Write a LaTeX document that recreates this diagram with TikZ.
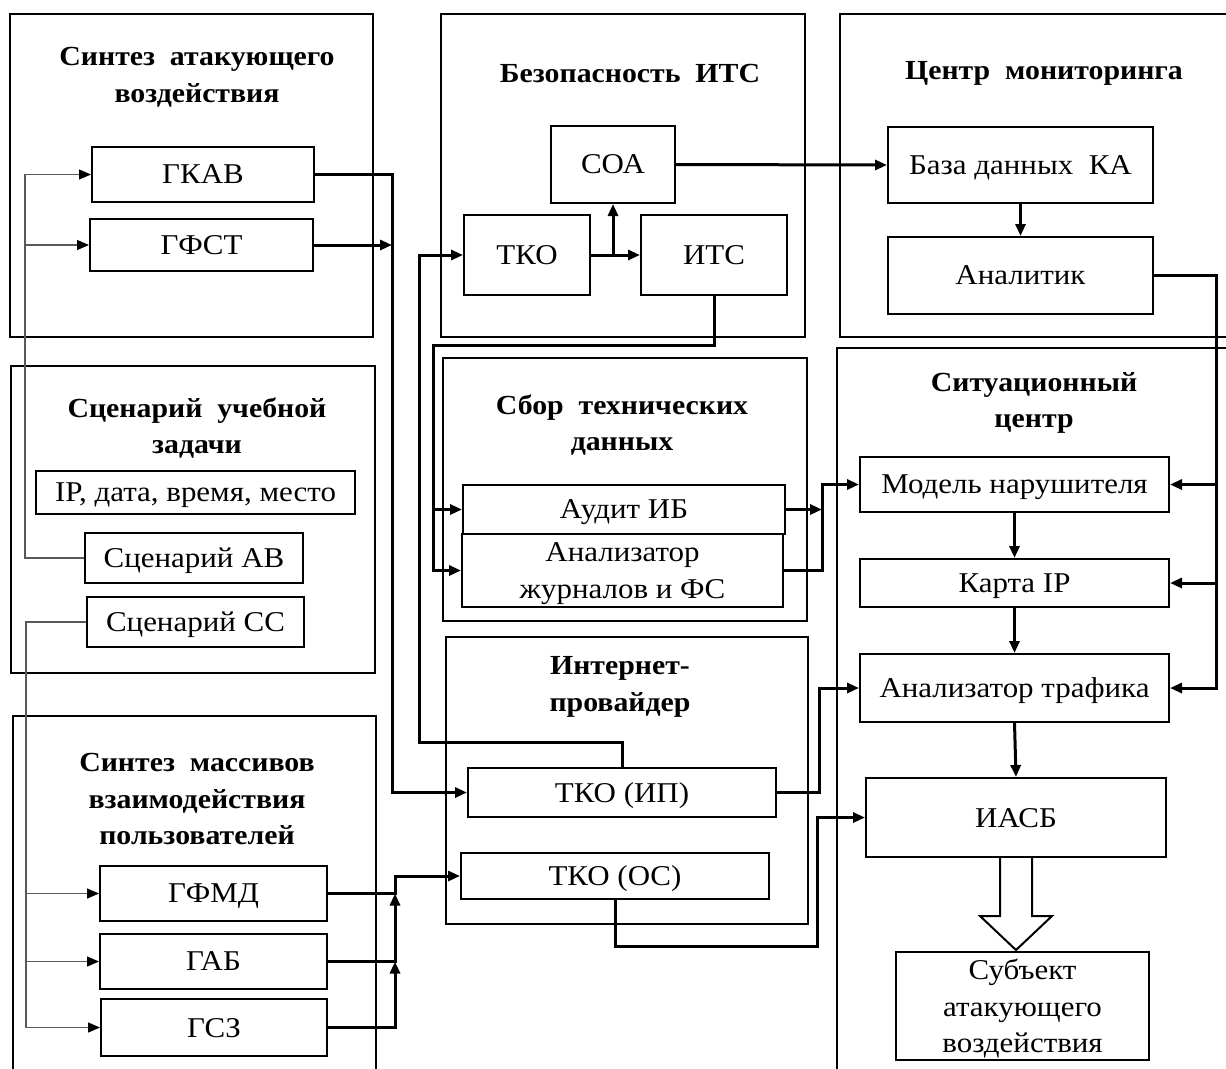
\documentclass[tikz,border=0pt]{standalone}
\usepackage{fontspec}
\setmainfont{Liberation Serif}[FakeStretch=1.08]
\usetikzlibrary{arrows.meta}
% block with corners (x1,y1)-(x2,y2) in pixel units
\newcommand\blk[7][]{\node[box,minimum width={0.75*(#5-#3)},minimum height={0.75*(#6-#4)},#1] (#2) at ({(#3+#5)/2},{(#4+#6)/2}) {#7};}
\begin{document}
\begin{tikzpicture}[x=0.75pt,y=-0.75pt,
  panel/.style={draw,line width=1.5pt},
  ttl/.style={font=\fontsize{20.7}{27.5}\selectfont\bfseries,align=center,inner sep=0pt},
  box/.style={draw,line width=1.5pt,fill=white,inner sep=0pt,align=center,text depth=0pt,font=\fontsize{21.5}{27.5}\selectfont},
  conn/.style={line width=2.25pt,-{Triangle[length=9pt,width=7.5pt]}},
  feed/.style={line width=1pt,draw=black!65,-{Triangle[length=9pt,width=7.5pt,color=black]}},
]
\clip (0,0) rectangle (1226,1068);
\fill[white] (0,0) rectangle (1226,1068);

% group frames
\draw[panel] (10,14) rectangle (373,337);
\draw[panel] (441,14) rectangle (805,337);
\draw[panel] (840,14) rectangle (1240,337);
\draw[panel] (11,366) rectangle (375,673);
\draw[panel] (443,358) rectangle (807,621);
\draw[panel] (446,637) rectangle (808,924);
\draw[panel] (837,348) rectangle (1240,1080);
\draw[panel] (13,716) rectangle (376,1080);

% group titles
\node[ttl] (t1) at (197,77) {Синтез\ \ атакующего\\воздействия};
\node[ttl] (t2) at (630,73) {Безопасность\ \ ИТС};
\node[ttl] (t3) at (1044,73) {Центр\ \ мониторинга};
\node[ttl] (t4) at (197,428) {Сценарий\ \ учебной\\задачи};
\node[ttl] (t5) at (622,425) {Сбор\ \ технических\\данных};
\node[ttl] (t6) at (1034,403) {Ситуационный\\центр};
\node[ttl] (t7) at (620,687) {Интернет-\\провайдер};
\node[ttl] (t8) at (197,799) {Синтез\ \ массивов\\взаимодействия\\пользователей};

% blocks
\blk{gkav}{92}{147}{314}{202}{ГКАВ}
\blk{gfst}{90}{219}{313}{271}{ГФСТ}
\blk{soa}{551}{126}{675}{203}{СОА}
\blk{tko}{464}{215}{590}{295}{ТКО}
\blk{its}{641}{215}{787}{295}{ИТС}
\blk{bdka}{888}{127}{1153}{203}{База данных\ \ КА}
\blk{analitik}{888}{237}{1153}{314}{Аналитик}
\blk{ipbox}{36}{471}{355}{514}{IP, дата, время, место}
\blk{scav}{85}{533}{303}{583}{Сценарий АВ}
\blk{scss}{87}{597}{304}{647}{Сценарий СС}
\blk{audit}{463}{485}{785}{534}{Аудит ИБ}
\blk[text depth=-5pt]{anl}{462}{534}{783}{607}{Анализатор\\журналов и ФС}
\blk{tkoip}{468}{768}{776}{817}{ТКО (ИП)}
\blk{tkoos}{461}{853}{769}{899}{ТКО (ОС)}
\blk{gfmd}{100}{866}{327}{921}{ГФМД}
\blk{gab}{100}{934}{327}{989}{ГАБ}
\blk{gsz}{101}{999}{327}{1056}{ГСЗ}
\blk{model}{860}{457}{1169}{512}{Модель нарушителя}
\blk{karta}{860}{559}{1169}{607}{Карта IP}
\blk{ata}{860}{654}{1169}{722}{Анализатор трафика}
\blk{iasb}{866}{778}{1166}{857}{ИАСБ}
\blk{subj}{896}{952}{1149}{1060}{Субъект\\атакующего\\воздействия}

% bus coordinates
\coordinate (busA) at (392,0);
\coordinate (bIP) at (419,742);
\coordinate (bITS) at (433,345);
\coordinate (bSD) at (822,0);
\coordinate (bAn) at (1216,0);
\coordinate (bIPo) at (819,0);
\coordinate (bOS) at (817,946);
\coordinate (bU) at (395,0);
\coordinate (g1) at (25,0);
\coordinate (g2) at (26,0);

% scenario feeds
\draw[feed] (scav.west) -| (g1 |- gkav.west) -- (gkav.west);
\draw[feed] (gfst.west -| g1) -- (gfst.west);
\draw[feed] (scss.west) -| (g2 |- gsz.west) -- (gsz.west);
\draw[feed] (gfmd.west -| g2) -- (gfmd.west);
\draw[feed] (gab.west -| g2) -- (gab.west);

% attack synthesis to provider
\draw[conn] (gkav.east) -- (gkav.east -| busA) |- (tkoip.west);
\draw[conn] (gfst.east) -- (gfst.east -| busA);

% provider to ITS security
\draw[conn] (tkoip.north) |- (bIP) |- (tko.west);
\draw[conn] (tko.east) -- (its.west);
\draw[conn] (soa.south |- tko.east) -- (soa.south);
\draw[conn] (soa.east) -- (bdka.west);
\draw[conn] (bdka.south) -- (analitik.north);

% ITS to technical data collection
\draw[conn] (its.south) |- (bITS) |- (anl.west);
\draw[conn] (audit.west -| bITS) -- (audit.west);
\draw[conn] (audit.east) -- (audit.east -| bSD);
\draw[conn] (anl.east) -- (anl.east -| bSD) |- (model.west);

% analyst feedback
\draw[conn] (analitik.east) -| (bAn |- ata.east) -- (ata.east);
\draw[conn] (model.east -| bAn) -- (model.east);
\draw[conn] (karta.east -| bAn) -- (karta.east);

% situation centre chain
\draw[conn] (model.south) -- (karta.north);
\draw[conn] (karta.south) -- (ata.north);
\draw[conn] (ata.south) -- (iasb.north);

% provider outputs
\draw[conn] (tkoip.east) -| (bIPo |- ata.west) -- (ata.west);
\draw[conn] (tkoos.south) |- (bOS) |- (iasb.west);

% user interaction synthesis
\draw[conn] (gfmd.east) -| (bU |- tkoos.west) -- (tkoos.west);
\draw[conn] (gab.east) -| (bU |- gfmd.east);
\draw[conn] (gsz.east) -| (bU |- gab.east);

% hollow block arrow
\draw[line width=1.5pt,fill=white] (iasb.south) ++(-16,0) -- ++(0,58) -- ++(-20,0) -- ++(36,34) -- ++(36,-34) -- ++(-20,0) -- ++(0,-58);
\end{tikzpicture}
\end{document}
